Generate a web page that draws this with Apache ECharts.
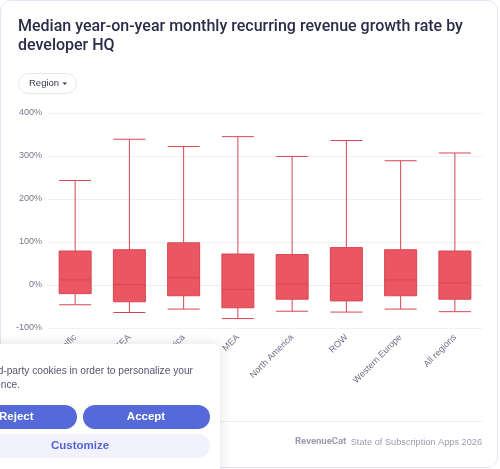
<!DOCTYPE html>
<html>
<head>
    <meta charset="utf-8"/>
    <title>MRR growth by developer HQ</title>
    <script src="https://cdn.jsdelivr.net/npm/echarts@6.0.0/dist/echarts.min.js"></script>
    <style>
        html, body { margin: 0; padding: 0; background: #fff; }
        #chart { width: 500px; height: 469px; }
    </style>
</head>
<body>
<div id="chart"></div>
<script>
    // categories (regions)
    var regions = ['Asia Pacific', 'CEEA', 'Latin America', 'MEA', 'North America', 'ROW', 'Western Europe', 'All regions'];
    // box values in %
    var lowWhisker = [-46, -64, -56, -78, -61, -63, -56, -62];
    var q1 = [-20, -39, -25, -53, -33, -37, -25, -33];
    var median = [12, 1, 17, -10, 2, 4, 12, 5];
    var q3 = [79, 82, 98, 72, 71, 87, 82, 79];
    var highWhisker = [243, 339, 322, 345, 299, 336, 289, 307];
    var yTicks = [-100, 0, 100, 200, 300, 400];

    var boxData = [];
    for (var i = 0; i < regions.length; i++) {
        boxData.push([lowWhisker[i], q1[i], median[i], q3[i], highWhisker[i]]);
    }

    var titleFont = 'Roboto, "Noto Sans", sans-serif';
    var font = '"Liberation Sans", Arial, sans-serif';
    var myChart = echarts.init(document.getElementById('chart'), null, {renderer: 'canvas'});

    var option = {
        animation: false,
        title: {
            text: 'Median year-on-year monthly recurring revenue growth rate by\ndeveloper HQ',
            left: 18,
            top: 17,
            padding: 0,
            textStyle: {
                fontFamily: titleFont,
                fontSize: 16,
                fontWeight: 500,
                color: '#2b2d48',
                lineHeight: 19
            }
        },
        grid: {left: 48, right: 18, top: 113, bottom: 141},
        xAxis: {
            type: 'category',
            data: regions,
            axisLine: {show: true, lineStyle: {color: '#ececf1'}},
            axisTick: {show: false},
            axisLabel: {
                rotate: 45,
                fontSize: 9,
                fontFamily: font,
                color: '#6d6f85',
                margin: 8
            }
        },
        yAxis: {
            type: 'value',
            min: yTicks[0],
            max: yTicks[yTicks.length - 1],
            interval: 100,
            axisLine: {show: false},
            axisTick: {show: false},
            splitLine: {lineStyle: {color: '#f1f1f4'}},
            axisLabel: {
                formatter: '{value}%',
                fontSize: 9,
                fontFamily: font,
                color: '#75778b',
                margin: 6
            }
        },
        series: [{
            type: 'boxplot',
            data: boxData,
            boxWidth: [32, 32],
            itemStyle: {
                color: '#eb5663',
                borderColor: '#d84652',
                borderWidth: 1
            }
        }],
        graphic: [
            // card border
            {
                type: 'rect', z: 100,
                shape: {x: 0.5, y: 0.5, width: 497, height: 467, r: 10},
                style: {fill: 'none', stroke: '#e3e5f6', lineWidth: 1}
            },
            // region dropdown
            {
                type: 'rect', z: 100,
                shape: {x: 18.5, y: 73.5, width: 58, height: 20, r: 10},
                style: {fill: '#fff', stroke: '#e6e7ee', lineWidth: 1}
            },
            {
                type: 'text', z: 101, x: 29, y: 83.5,
                style: {text: 'Region', fontFamily: font, fontSize: 9.5, fill: '#363850', verticalAlign: 'middle'}
            },
            {
                type: 'polygon', z: 101,
                shape: {points: [[62.5, 82.5], [67, 82.5], [64.75, 85]]},
                style: {fill: '#363850'}
            },
            // footer
            {
                type: 'line', z: 100,
                shape: {x1: 18, y1: 421.5, x2: 482, y2: 421.5},
                style: {stroke: '#eeeef3', lineWidth: 1}
            },
            {
                type: 'text', z: 101, x: 295, y: 442,
                style: {text: 'RevenueCat', fontFamily: titleFont, fontSize: 9.5, fontWeight: 700, fill: '#9a9cae', verticalAlign: 'middle'}
            },
            {
                type: 'text', z: 101, x: 482, y: 442,
                style: {text: 'State of Subscription Apps 2026', fontFamily: font, fontSize: 9.2, fill: '#9a9cae', align: 'right', verticalAlign: 'middle'}
            },
            // cookie banner
            {
                type: 'rect', z: 200,
                shape: {x: -40, y: 344, width: 260, height: 140, r: 6},
                style: {fill: '#fff', shadowBlur: 12, shadowColor: 'rgba(40,40,80,0.15)'}
            },
            {
                type: 'text', z: 201, x: 193, y: 371,
                style: {text: 'We use third-party cookies in order to personalize your', fontFamily: font, fontSize: 10.2, fill: '#55576a', align: 'right', verticalAlign: 'middle'}
            },
            {
                type: 'text', z: 201, x: 20, y: 385,
                style: {text: 'experience.', fontFamily: font, fontSize: 10.2, fill: '#55576a', align: 'right', verticalAlign: 'middle'}
            },
            {
                type: 'rect', z: 201,
                shape: {x: -60, y: 405, width: 137, height: 24, r: 12},
                style: {fill: '#5569d8'}
            },
            {
                type: 'text', z: 202, x: -1, y: 417,
                style: {text: 'Reject', fontFamily: font, fontSize: 11.5, fontWeight: 700, fill: '#fff', verticalAlign: 'middle'}
            },
            {
                type: 'rect', z: 201,
                shape: {x: 83, y: 405, width: 127, height: 24, r: 12},
                style: {fill: '#5569d8'}
            },
            {
                type: 'text', z: 202, x: 146, y: 417,
                style: {text: 'Accept', fontFamily: font, fontSize: 11.5, fontWeight: 700, fill: '#fff', align: 'center', verticalAlign: 'middle'}
            },
            {
                type: 'rect', z: 201,
                shape: {x: -60, y: 434, width: 270, height: 24, r: 12},
                style: {fill: '#f1f2fc'}
            },
            {
                type: 'text', z: 202, x: 80, y: 446,
                style: {text: 'Customize', fontFamily: font, fontSize: 11.5, fontWeight: 700, fill: '#5166d6', align: 'center', verticalAlign: 'middle'}
            }
        ]
    };
    myChart.setOption(option);

    window.onresize = function () {
        myChart.resize();
    };
</script>
</body>
</html>
